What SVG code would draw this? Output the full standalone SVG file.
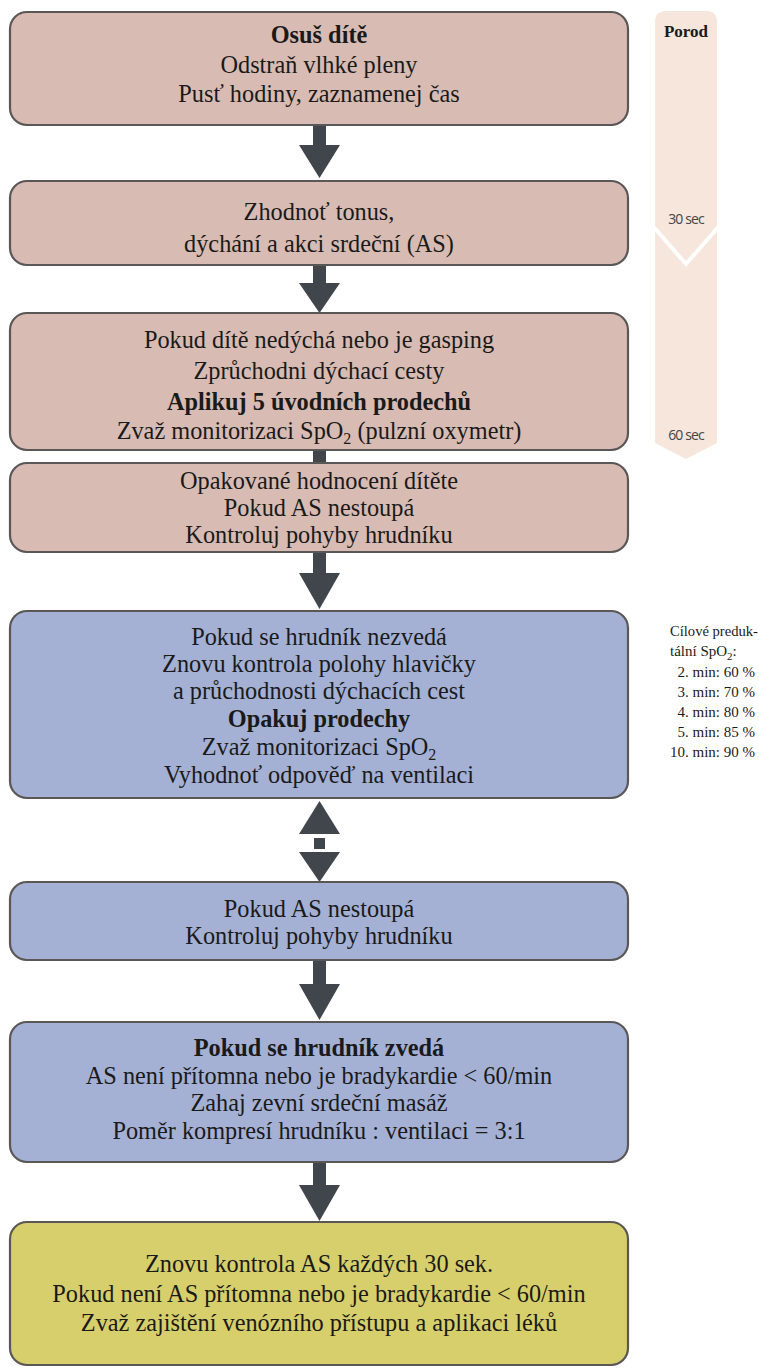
<svg xmlns="http://www.w3.org/2000/svg" width="759" height="1369" viewBox="0 0 759 1369">
<style>
.box{stroke:#5b5757;stroke-width:2.2}
.pink{fill:#d8bcb3}
.blue{fill:#a4b1d5}
.yellow{fill:#d7cf6b}
.t{font-family:"Liberation Serif","Times New Roman",serif;font-size:24.3px;fill:#1a1a1a;text-anchor:middle}
.b{font-weight:bold}
.arr{fill:#41464d}
.side{font-family:"Liberation Serif","Times New Roman",serif;font-size:15px;fill:#1a1a1a}
.sec{font-family:"Open Sans","Noto Sans",sans-serif;font-size:14px;fill:#454545;text-anchor:middle;letter-spacing:-0.9px}
</style>
<rect width="759" height="1369" fill="#ffffff"/>

<g id="timeline">
<path d="M655,22 Q655,11 666,11 L706,11 Q717,11 717,22 L717,443 L686,459 L655,443 Z" fill="#f7e6dc"/>
<polyline points="651,224 686,264 721,224" fill="none" stroke="#ffffff" stroke-width="4"/>
<text x="686" y="37" class="side b" style="font-size:17px;text-anchor:middle">Porod</text>
<text x="686" y="224" class="sec">30 sec</text>
<text x="686" y="440" class="sec">60 sec</text>
</g>

<g id="connectors">
<path class="arr" d="M313,125 h13 v20 h14 l-20.5,33 l-20.5,-33 h14 z"/>
<path class="arr" d="M313,265 h13 v18 h14 l-20.5,30 l-20.5,-30 h14 z"/>
<rect class="arr" x="313" y="449" width="13" height="15"/>
<path class="arr" d="M313,552 h13 v21 h14 l-20.5,36 l-20.5,-36 h14 z"/>
<path class="arr" d="M319.5,801 l20.5,33 h-41 z"/>
<rect class="arr" x="314" y="838" width="11" height="11"/>
<path class="arr" d="M299,852 h41 l-20.5,30 z"/>
<path class="arr" d="M313,960 h13 v24 h14 l-20.5,36 l-20.5,-36 h14 z"/>
<path class="arr" d="M313,1162 h13 v23 h14 l-20.5,36 l-20.5,-36 h14 z"/>
</g>

<g id="n1">
<rect class="box pink" x="10" y="12" width="618" height="113" rx="17"/>
<text class="t b" x="319" y="43">Osuš dítě</text>
<text class="t" x="319" y="73">Odstraň vlhké pleny</text>
<text class="t" x="319" y="102">Pusť hodiny, zaznamenej čas</text>
</g>

<g id="n2">
<rect class="box pink" x="10" y="181" width="618" height="84" rx="17"/>
<text class="t" x="319" y="220">Zhodnoť tonus,</text>
<text class="t" x="319" y="252">dýchání a akci srdeční (AS)</text>
</g>

<g id="n3">
<rect class="box pink" x="10" y="313" width="618" height="137" rx="17"/>
<text class="t" x="319" y="348">Pokud dítě nedýchá nebo je gasping</text>
<text class="t" x="319" y="379">Zprůchodni dýchací cesty</text>
<text class="t b" x="319" y="410">Aplikuj 5 úvodních prodechů</text>
<text class="t" x="319" y="439">Zvaž monitorizaci SpO<tspan font-size="16" dy="5">2</tspan><tspan dy="-5"> (pulzní oxymetr)</tspan></text>
</g>

<g id="n4">
<rect class="box pink" x="10" y="463" width="618" height="89" rx="17"/>
<text class="t" x="319" y="489">Opakované hodnocení dítěte</text>
<text class="t" x="319" y="516">Pokud AS nestoupá</text>
<text class="t" x="319" y="543">Kontroluj pohyby hrudníku</text>
</g>

<g id="n5">
<rect class="box blue" x="10" y="611" width="618" height="187" rx="17"/>
<text class="t" x="319" y="645">Pokud se hrudník nezvedá</text>
<text class="t" x="319" y="672">Znovu kontrola polohy hlavičky</text>
<text class="t" x="319" y="699">a průchodnosti dýchacích cest</text>
<text class="t b" x="319" y="727">Opakuj prodechy</text>
<text class="t" x="319" y="755">Zvaž monitorizaci SpO<tspan font-size="16" dy="5">2</tspan></text>
<text class="t" x="319" y="783">Vyhodnoť odpověď na ventilaci</text>
</g>

<g id="n5note">
<text class="side" x="670" y="636" style="font-size:14.6px">Cílové preduk-</text>
<text class="side" x="670" y="656">tální SpO<tspan font-size="11" dy="4">2</tspan><tspan dy="-4">:</tspan></text>
<text class="side" x="755" y="677" text-anchor="end">2. min: 60 %</text>
<text class="side" x="755" y="697" text-anchor="end">3. min: 70 %</text>
<text class="side" x="755" y="717" text-anchor="end">4. min: 80 %</text>
<text class="side" x="755" y="737" text-anchor="end">5. min: 85 %</text>
<text class="side" x="755" y="757" text-anchor="end">10. min: 90 %</text>
</g>

<g id="n6">
<rect class="box blue" x="10" y="882" width="618" height="78" rx="17"/>
<text class="t" x="319" y="917">Pokud AS nestoupá</text>
<text class="t" x="319" y="944">Kontroluj pohyby hrudníku</text>
</g>

<g id="n7">
<rect class="box blue" x="10" y="1022" width="618" height="140" rx="17"/>
<text class="t b" x="319" y="1056">Pokud se hrudník zvedá</text>
<text class="t" x="319" y="1084">AS není přítomna nebo je bradykardie &lt; 60/min</text>
<text class="t" x="319" y="1111">Zahaj zevní srdeční masáž</text>
<text class="t" x="319" y="1139">Poměr kompresí hrudníku : ventilaci = 3:1</text>
</g>

<g id="n8">
<rect class="box yellow" x="10" y="1222" width="618" height="143" rx="17"/>
<text class="t" x="319" y="1272">Znovu kontrola AS každých 30 sek.</text>
<text class="t" x="319" y="1302">Pokud není AS přítomna nebo je bradykardie &lt; 60/min</text>
<text class="t" x="319" y="1331">Zvaž zajištění venózního přístupu a aplikaci léků</text>
</g>
</svg>
